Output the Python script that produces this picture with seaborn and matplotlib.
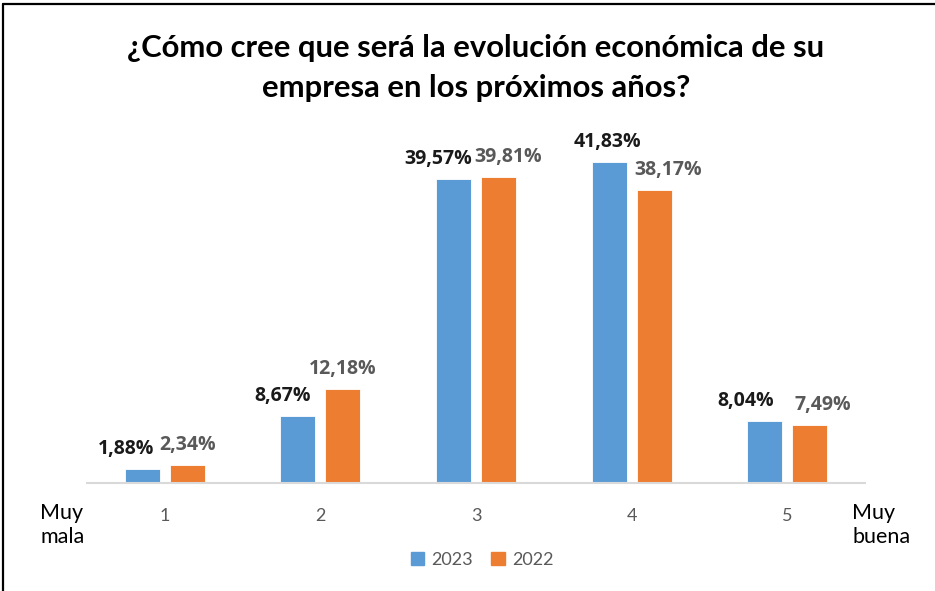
import numpy as np
import pandas as pd
import matplotlib
matplotlib.use("Agg")
import matplotlib.pyplot as plt
from matplotlib.lines import Line2D
import seaborn as sns

# Data
categories = ["1", "2", "3", "4", "5"]
years = ["2023", "2022"]
values_2023 = [1.88, 8.67, 39.57, 41.83, 8.04]
values_2022 = [2.34, 12.18, 39.81, 38.17, 7.49]

# label nudges (pixels) so text sits like in the original
nudge_2023 = [-16, -15, -15, -2, -19]
nudge_2022 = [0, 0, 10, 14, 13]

colors = {"2023": "#5B9BD5", "2022": "#ED7D31"}

df = pd.DataFrame({
    "cat": categories * 2,
    "year": ["2023"] * len(categories) + ["2022"] * len(categories),
    "value": values_2023 + values_2022,
})

sns.set_style("white")
plt.rcParams["font.family"] = ["Lato", "DejaVu Sans"]

fig = plt.figure(figsize=(9.35, 5.91), dpi=100)
ax = fig.add_axes([87 / 935, 108 / 591, 778 / 935, 45 * 7.68 / 591])

sns.barplot(data=df, x="cat", y="value", hue="year", hue_order=years,
            order=categories, palette=colors, width=0.578, gap=0.22,
            saturation=1, edgecolor="white", linewidth=0.6, ax=ax, legend=False)

ax.set_xlim(-0.5, 4.5)
ax.set_ylim(0, 45)
ax.set_xlabel("")
ax.set_ylabel("")
ax.set_yticks([])
for s in ["top", "right", "left"]:
    ax.spines[s].set_visible(False)
ax.spines["bottom"].set_color("#D9D9D9")
ax.spines["bottom"].set_linewidth(1.5)
ax.tick_params(axis="x", length=0, pad=18, labelsize=13, labelcolor="#595959")

# data labels
label_font = dict(family=["Open Sans", "DejaVu Sans"], fontweight="bold", fontsize=14)
for cont, vals, nudges, col in [
    (ax.containers[0], values_2023, nudge_2023, "#1a1a1a"),
    (ax.containers[1], values_2022, nudge_2022, "#595959"),
]:
    for p, v, dx in zip(cont.patches, vals, nudges):
        x = p.get_x() + p.get_width() / 2
        ax.annotate(f"{v:.2f}%".replace(".", ","), (x, p.get_height()),
                    xytext=(dx, 10), textcoords="offset pixels",
                    ha="center", va="bottom", color=col, **label_font)

# title
fig.text(476 / 935, 1 - 48 / 591, "¿Cómo cree que será la evolución económica de su",
         ha="center", va="center", fontsize=22.3, fontweight="bold", color="black")
fig.text(476 / 935, 1 - 88 / 591, "empresa en los próximos años?",
         ha="center", va="center", fontsize=22.3, fontweight="bold", color="black")

# end labels of the scale
fig.text(40 / 935, 1 - 525 / 591, "Muy\nmala", ha="left", va="center",
         fontsize=15.5, color="black", linespacing=1.3)
fig.text(852 / 935, 1 - 525 / 591, "Muy\nbuena", ha="left", va="center",
         fontsize=15.5, color="black", linespacing=1.3)

# legend
handles = [plt.Rectangle((0, 0), 1, 1, color=colors[y]) for y in years]
fig.legend(handles, years, loc="center", bbox_to_anchor=(482 / 935, 1 - 560 / 591),
           ncol=2, frameon=False, handlelength=0.75, handleheight=0.75,
           handletextpad=0.4, columnspacing=1.0, fontsize=13, labelcolor="#595959")

# outer frame (left and top edges)
fig.add_artist(Line2D([3 / 935, 3 / 935], [0, 1 - 4 / 591], transform=fig.transFigure,
                      color="black", lw=1.6))
fig.add_artist(Line2D([3 / 935, 1], [1 - 4 / 591, 1 - 4 / 591], transform=fig.transFigure,
                      color="black", lw=1.6))

fig.savefig("out.png", dpi=100)
